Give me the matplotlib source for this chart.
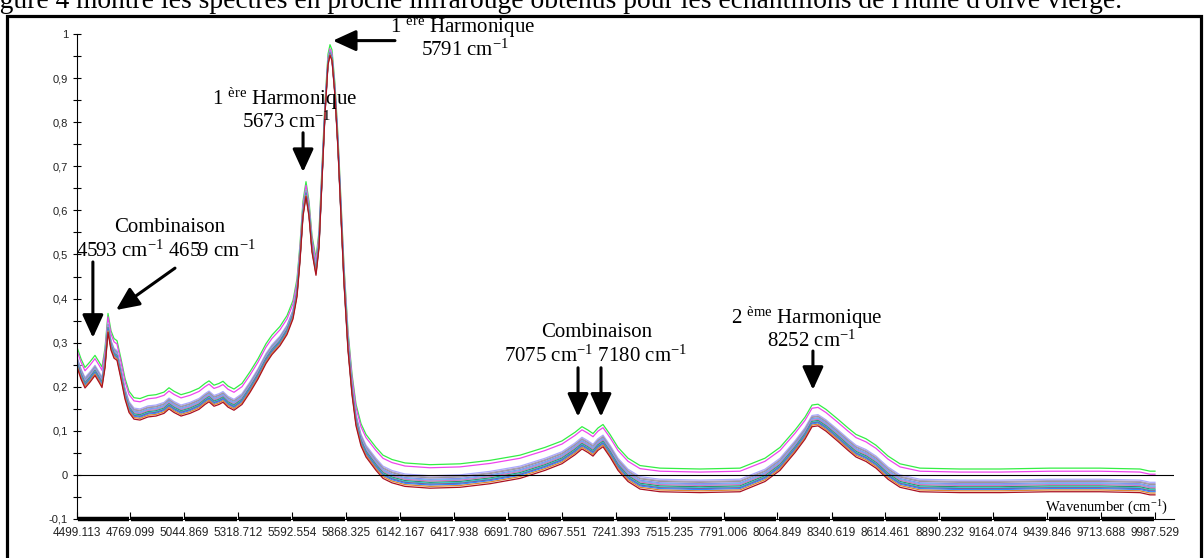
import numpy as np
import matplotlib
matplotlib.use('Agg')
import matplotlib.pyplot as plt
from matplotlib.patches import Rectangle

plt.rcParams['font.family'] = ['Liberation Sans', 'DejaVu Sans']
plt.rcParams['mathtext.fontset'] = 'custom'
plt.rcParams['mathtext.rm'] = 'Liberation Serif'
plt.rcParams['mathtext.it'] = 'Liberation Serif:italic'
plt.rcParams['mathtext.bf'] = 'Liberation Serif:bold'

# spectre moyen (nombre d'onde en cm-1, absorbance)
wavenumber = [4499.1, 4519.5, 4539.8, 4565.3, 4590.7, 4611.1, 4626.4, 4641.7, 4657.0, 4672.2,
              4687.5, 4702.8, 4723.1, 4743.5, 4763.9, 4789.3, 4819.9, 4860.6, 4901.3, 4942.1,
              4967.5, 4993.0, 5028.6, 5074.4, 5120.3, 5150.8, 5171.2, 5196.6, 5222.1, 5242.4,
              5267.9, 5298.4, 5339.2, 5379.9, 5420.6, 5461.4, 5491.9, 5532.6, 5568.3, 5598.8,
              5619.2, 5634.5, 5649.7, 5665.0, 5680.3, 5695.6, 5715.9, 5731.2, 5746.5, 5761.8,
              5777.0, 5787.2, 5797.4, 5812.7, 5827.9, 5843.2, 5858.5, 5878.8, 5899.2, 5919.6,
              5945.0, 5970.5, 5995.9, 6021.4, 6057.0, 6102.9, 6169.0, 6296.3, 6449.1, 6601.8,
              6754.5, 6881.8, 6968.4, 7034.6, 7070.2, 7100.8, 7126.2, 7151.7, 7177.2, 7212.8,
              7253.6, 7304.5, 7365.6, 7467.4, 7671.1, 7874.7, 8002.0, 8078.3, 8154.7, 8205.6,
              8241.3, 8271.8, 8312.5, 8373.6, 8424.6, 8465.3, 8516.2, 8567.1, 8628.2, 8689.2,
              8791.0, 8994.7, 9198.4, 9452.9, 9707.5, 9911.1, 9962.0, 9987.5]
absorbance = [0.262, 0.235, 0.215, 0.228, 0.243, 0.228, 0.216, 0.26, 0.34, 0.30,
              0.282, 0.277, 0.235, 0.19, 0.16, 0.145, 0.143, 0.15, 0.152, 0.158,
              0.168, 0.16, 0.152, 0.158, 0.167, 0.178, 0.184, 0.174, 0.178, 0.183,
              0.172, 0.165, 0.178, 0.205, 0.235, 0.27, 0.29, 0.31, 0.335, 0.37,
              0.42, 0.50, 0.60, 0.645, 0.60, 0.52, 0.468, 0.53, 0.68, 0.83,
              0.94, 0.962, 0.95, 0.87, 0.75, 0.60, 0.45, 0.30, 0.20, 0.13,
              0.085, 0.06, 0.045, 0.03, 0.012, 0.002, -0.006, -0.01, -0.008, 0.0,
              0.012, 0.03, 0.045, 0.065, 0.078, 0.07, 0.062, 0.075, 0.083, 0.06,
              0.03, 0.005, -0.012, -0.018, -0.02, -0.018, 0.005, 0.03, 0.07, 0.10,
              0.128, 0.13, 0.118, 0.095, 0.075, 0.06, 0.05, 0.035, 0.01, -0.008,
              -0.018, -0.02, -0.02, -0.018, -0.018, -0.02, -0.025, -0.025]

# échantillons : couleur, gain et décalage de ligne de base
sample_colors = ['#33ee44', '#ee44ee', '#aaaaff', '#b0a0d0', '#9a9a9a', '#8888ee', '#66bbee',
                 '#cc77cc', '#2e8b57', '#33cccc', '#7a5a9a', '#3388ff', '#dd8833', '#aa1122']
sample_gains = [0.98, 0.978, 0.99, 0.992, 0.995, 0.997, 1.0,
                1.0, 1.002, 1.004, 1.005, 1.006, 1.008, 1.01]
sample_offsets = [0.033, 0.026, 0.008, 0.005, 0.003, 0.0, -0.002,
                  -0.004, -0.007, -0.009, -0.011, -0.013, -0.016, -0.02]

x_ticks = ['4499.113', '4769.099', '5044.869', '5318.712', '5592.554', '5868.325', '6142.167',
           '6417.938', '6691.780', '6967.551', '7241.393', '7515.235', '7791.006', '8064.849',
           '8340.619', '8614.461', '8890.232', '9164.074', '9439.846', '9713.688', '9987.529']
y_ticks = [-0.1, 0, 0.1, 0.2, 0.3, 0.4, 0.5, 0.6, 0.7, 0.8, 0.9, 1]
y_labels = ['-0,1', '0', '0,1', '0,2', '0,3', '0,4', '0,5', '0,6', '0,7', '0,8', '0,9', '1']

fig = plt.figure(figsize=(12.04, 5.58), dpi=100)

# texte du document au-dessus de la figure (coupé en haut)
fig.text(-23 / 1204, 1 - 8 / 558,
         "Figure 4 montre les spectres en proche infrarouge obtenus pour les échantillons de l'huile d'olive vierge.",
         family='Liberation Serif', fontsize=19.8, va='baseline', ha='left')

# cadre
fig.patches.append(Rectangle((7 / 1204, -0.1), (1201 - 7) / 1204, 0.1 + (558 - 16) / 558,
                             transform=fig.transFigure, fill=False, lw=2.3, ec='black'))

ax = fig.add_axes([77 / 1204, 39 / 558, 1097 / 1204, 485 / 558])

wn = np.array(wavenumber)
ab = np.array(absorbance)
for c, g, o in zip(sample_colors, sample_gains, sample_offsets):
    ax.plot(wn, ab * g + o, color=c, lw=0.9)

ax.axhline(0, color='black', lw=0.8)

ax.set_xlim(4499.113, 10084.3)
ax.set_ylim(-0.1, 1.0)

for s in ['top', 'right']:
    ax.spines[s].set_visible(False)
ax.spines['left'].set_linewidth(0.8)
ax.spines['bottom'].set_linewidth(0.8)

xt = [float(t) for t in x_ticks]
ax.set_xticks(xt)
ax.set_xticklabels(x_ticks, fontsize=8.5, color='#222222')
ax.tick_params(axis='x', direction='in', length=5, width=0.8, pad=6)

# barre épaisse de l'axe des x entre les graduations
for a, b in zip(xt[:-1], xt[1:]):
    ax.hlines(-0.1, a + 6, b - 6, color='black', lw=3.2, clip_on=False)

ax.set_yticks(y_ticks)
ax.set_yticklabels(y_labels, fontsize=8, color='#222222')
ax.set_yticks(np.arange(-0.05, 1.0, 0.1), minor=True)
ax.tick_params(axis='y', which='both', direction='inout', length=6, width=0.8)

ax.text(10054, -0.075, 'Wavenumber (cm$^{-1}$)', family='Liberation Serif',
        fontsize=10.5, ha='right', va='center')

# annotations
serif = dict(family='Liberation Serif', fontsize=15, ha='center', va='center')
arrow = dict(arrowstyle='-|>,head_length=0.7,head_width=0.32', lw=2.2, color='black',
             mutation_scale=20, shrinkA=0, shrinkB=0)

ax.text(4972, 0.560, 'Combinaison', **serif)
ax.text(4952, 0.508, '4593 cm$^{-1}$ 4659 cm$^{-1}$', **serif)
ax.annotate('', xy=(4580, 0.311), xytext=(4580, 0.483), arrowprops=arrow)
ax.annotate('', xy=(4698, 0.374), xytext=(4998, 0.469), arrowprops=arrow)

ax.text(5558, 0.853, '1 $^{\\mathrm{ère}}$ Harmonique', **serif)
ax.text(5568, 0.800, '5673 cm$^{-1}$', **serif)
ax.annotate('', xy=(5650, 0.687), xytext=(5650, 0.776), arrowprops=arrow)

ax.text(6464, 1.016, '1 $^{\\mathrm{ère}}$ Harmonique', clip_on=False, **serif)
ax.text(6474, 0.964, '5791 cm$^{-1}$', **serif)
ax.annotate('', xy=(5802, 0.985), xytext=(6118, 0.985), arrowprops=arrow)

ax.text(7146, 0.322, 'Combinaison', **serif)
ax.text(7141, 0.270, '7075 cm$^{-1}$ 7180 cm$^{-1}$', **serif)
ax.annotate('', xy=(7050, 0.132), xytext=(7050, 0.243), arrowprops=arrow)
ax.annotate('', xy=(7167, 0.132), xytext=(7167, 0.243), arrowprops=arrow)

ax.text(8216, 0.356, '2 $^{\\mathrm{ème}}$ Harmonique', **serif)
ax.text(8241, 0.304, '8252 cm$^{-1}$', **serif)
ax.annotate('', xy=(8246, 0.193), xytext=(8246, 0.281), arrowprops=arrow)

fig.savefig('out.png', dpi=100)
